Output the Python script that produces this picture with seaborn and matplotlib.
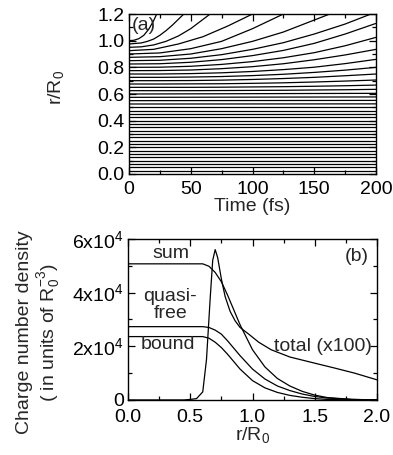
import numpy as np
import pandas as pd
import seaborn as sns
import matplotlib.pyplot as plt
from matplotlib.ticker import AutoMinorLocator, FixedLocator, FixedFormatter

# ------------------ DATOS (a): trayectorias r(t) ------------------ #

# capas externas: cada una con sus propios tiempos (fs) y radios (r/R0)
outer_t = [
    [0, 4, 8, 12, 16, 20, 24],
    [0, 10, 15, 20, 25, 30, 35, 40, 45],
    [0, 10, 20, 30, 40, 50, 60, 70],
    [0, 20, 40, 60, 80, 100, 120],
    [0, 25, 50, 75, 100, 125, 150],
    [0, 25, 50, 75, 100, 125, 150, 175],
]
outer_r = [
    [1.000, 1.003, 1.015, 1.040, 1.085, 1.150, 1.230],
    [0.975, 0.983, 0.995, 1.012, 1.040, 1.075, 1.115, 1.160, 1.205],
    [0.950, 0.954, 0.968, 0.995, 1.035, 1.090, 1.160, 1.230],
    [0.925, 0.935, 0.975, 1.030, 1.110, 1.200, 1.290],
    [0.900, 0.908, 0.940, 0.995, 1.090, 1.200, 1.300],
    [0.875, 0.880, 0.900, 0.940, 0.995, 1.065, 1.155, 1.245],
]

# capas intermedias en una rejilla común de tiempos
mid_t = [0, 25, 50, 75, 100, 125, 150, 175, 200]
mid_r = [
    [0.850, 0.853, 0.868, 0.895, 0.935, 0.985, 1.050, 1.125, 1.215],
    [0.825, 0.827, 0.838, 0.858, 0.888, 0.927, 0.980, 1.050, 1.130],
    [0.800, 0.801, 0.808, 0.822, 0.843, 0.872, 0.910, 0.962, 1.025],
    [0.775, 0.776, 0.780, 0.790, 0.805, 0.827, 0.857, 0.893, 0.935],
    [0.750, 0.750, 0.753, 0.759, 0.769, 0.783, 0.801, 0.828, 0.860],
    [0.725, 0.725, 0.727, 0.731, 0.738, 0.748, 0.762, 0.779, 0.800],
    [0.700, 0.700, 0.701, 0.704, 0.709, 0.716, 0.725, 0.737, 0.750],
    [0.675, 0.675, 0.676, 0.677, 0.680, 0.684, 0.690, 0.697, 0.705],
    [0.650, 0.650, 0.650, 0.651, 0.653, 0.655, 0.658, 0.662, 0.667],
    [0.625, 0.625, 0.625, 0.626, 0.627, 0.628, 0.630, 0.632, 0.635],
]

# capas internas: casi quietas (radio a t=0 y a t=200 fs)
inner_t = [0, 200]
inner_r0 = [0.600, 0.575, 0.550, 0.525, 0.500, 0.475, 0.450, 0.425, 0.400,
            0.375, 0.350, 0.325, 0.300, 0.275, 0.250, 0.225, 0.200, 0.175,
            0.150, 0.125, 0.100, 0.075, 0.050, 0.025]
inner_r1 = [0.605, 0.578, 0.552, 0.526, 0.500, 0.475, 0.450, 0.425, 0.400,
            0.375, 0.350, 0.325, 0.300, 0.275, 0.250, 0.225, 0.200, 0.175,
            0.150, 0.125, 0.100, 0.075, 0.050, 0.025]

# ------------------ DATOS (b): densidades ------------------ #

r_sum = [0.0, 0.6, 0.65, 0.7, 0.75, 0.8, 0.9, 1.0, 1.1, 1.2, 1.3, 1.4, 1.5, 1.6, 1.8, 2.0]
n_sum = [5.07, 5.07, 4.98, 4.75, 4.40, 3.90, 2.80, 1.87, 1.23, 0.80, 0.52, 0.32, 0.18, 0.09, 0.02, 0.0]

r_free = [0.0, 0.6, 0.65, 0.7, 0.75, 0.8, 0.9, 1.0, 1.1, 1.2, 1.3, 1.4, 1.5, 1.6, 1.8, 2.0]
n_free = [2.73, 2.73, 2.70, 2.60, 2.45, 2.20, 1.65, 1.15, 0.78, 0.52, 0.35, 0.22, 0.13, 0.07, 0.02, 0.0]

r_bound = [0.0, 0.6, 0.65, 0.7, 0.75, 0.8, 0.9, 1.0, 1.1, 1.2, 1.3, 1.4, 1.5, 1.6, 1.8, 2.0]
n_bound = [2.36, 2.36, 2.30, 2.15, 1.95, 1.70, 1.15, 0.72, 0.45, 0.28, 0.17, 0.10, 0.05, 0.02, 0.0, 0.0]

r_total = [0.0, 0.45, 0.5, 0.55, 0.6, 0.63, 0.66, 0.68, 0.7, 0.72, 0.75, 0.78, 0.82,
           0.86, 0.9, 0.97, 1.05, 1.15, 1.3, 1.5, 1.65, 1.82, 2.0]
n_total = [0.0, 0.0, 0.02, 0.05, 0.3, 1.5, 3.8, 5.2, 5.6, 5.3, 4.5, 3.85, 3.3,
           2.95, 2.7, 2.45, 2.15, 1.87, 1.6, 1.37, 1.2, 1.0, 0.75]

# ------------------ ESTILO ------------------ #

sns.set_style("ticks")
plt.rcParams["font.family"] = ["Liberation Sans", "DejaVu Sans"]
plt.rcParams["mathtext.fontset"] = "custom"
plt.rcParams["mathtext.rm"] = "Liberation Sans"
plt.rcParams["mathtext.it"] = "Liberation Sans:italic"
plt.rcParams["font.size"] = 14

fig = plt.figure(figsize=(3.93, 4.55), dpi=100)
ax_a = fig.add_axes([0.328, 0.6176, 0.629, 0.3516])
ax_b = fig.add_axes([0.326, 0.121, 0.633, 0.354])

# ------------------ PANEL (a) ------------------ #

rows = []
k = 0
for ts, rs in zip(outer_t, outer_r):
    for t, r in zip(ts, rs):
        rows.append((k, t, r))
    k += 1
for rs in mid_r:
    for t, r in zip(mid_t, rs):
        rows.append((k, t, r))
    k += 1
for a, b in zip(inner_r0, inner_r1):
    rows.append((k, inner_t[0], a))
    rows.append((k, inner_t[1], b))
    k += 1
df_a = pd.DataFrame(rows, columns=["line", "t", "r"])

sns.lineplot(data=df_a, x="t", y="r", units="line", estimator=None,
             color="black", lw=0.9, ax=ax_a, legend=False)
ax_a.set_xlim(0, 200)
ax_a.set_ylim(0, 1.2)
ax_a.set_xticks([0, 50, 100, 150, 200])
ax_a.set_yticks([0.0, 0.2, 0.4, 0.6, 0.8, 1.0, 1.2])
ax_a.set_yticklabels(["0.0", "0.2", "0.4", "0.6", "0.8", "1.0", "1.2"])
ax_a.set_xlabel("Time (fs)", labelpad=0)
ax_a.set_ylabel("r/R$_0$")
ax_a.yaxis.set_label_coords(-0.255, 0.54)
ax_a.text(0.012, 0.93, "(a)", transform=ax_a.transAxes, ha="left", va="center")

# ------------------ PANEL (b) ------------------ #

curvas = [(r_sum, n_sum), (r_free, n_free), (r_bound, n_bound), (r_total, n_total)]
for rr, nn in curvas:
    sns.lineplot(x=np.array(rr), y=np.array(nn) * 1e4, color="black", lw=0.9,
                 ax=ax_b, sort=False, legend=False)
ax_b.set_xlim(0, 2.0)
ax_b.set_ylim(0, 6e4)
ax_b.set_xticks([0.0, 0.5, 1.0, 1.5, 2.0])
ax_b.set_xticklabels(["0.0", "0.5", "1.0", "1.5", "2.0"])
ax_b.yaxis.set_major_locator(FixedLocator([0, 2e4, 4e4, 6e4]))
ax_b.yaxis.set_major_formatter(FixedFormatter(["0", "2x10$^4$", "4x10$^4$", "6x10$^4$"]))
ax_b.set_xlabel("r/R$_0$", labelpad=-1)
ax_b.set_ylabel("Charge number density\n( in units of R$_0^{-3}$)", linespacing=1.1)
ax_b.yaxis.set_label_coords(-0.265, 0.42)

ax_b.text(0.34, 5.45e4, "sum", ha="center", va="center")
ax_b.text(0.34, 3.55e4, "quasi-\nfree", ha="center", va="center", linespacing=1.0)
ax_b.text(0.32, 2.05e4, "bound", ha="center", va="center")
ax_b.text(1.57, 2.0e4, "total (x100)", ha="center", va="center")
ax_b.text(1.84, 5.35e4, "(b)", ha="center", va="center")

for ax in (ax_a, ax_b):
    ax.xaxis.set_minor_locator(AutoMinorLocator(2))
    ax.yaxis.set_minor_locator(AutoMinorLocator(2))
    ax.tick_params(which="both", direction="in", top=True, right=True,
                   width=0.9, labelsize=14, colors="black")
    ax.tick_params(which="major", length=5)
    ax.tick_params(axis="y", which="major", pad=3)
    ax.tick_params(which="minor", length=3)
    for s in ax.spines.values():
        s.set_linewidth(1.0)
        s.set_color("black")

ax_a.tick_params(axis="x", which="major", pad=5)
ax_b.tick_params(axis="x", which="major", pad=6.5)

plt.savefig("out.png", dpi=100)
plt.close()
